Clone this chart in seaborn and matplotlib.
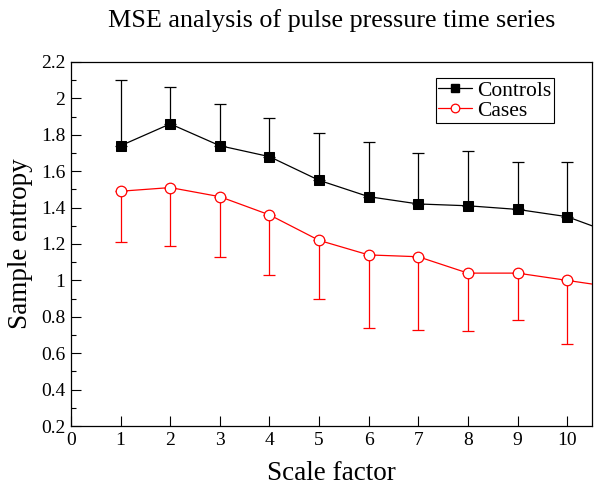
import matplotlib
matplotlib.use("Agg")
import matplotlib.pyplot as plt
import seaborn as sns
import pandas as pd
from matplotlib.ticker import MultipleLocator
from matplotlib.lines import Line2D

scale = [1, 2, 3, 4, 5, 6, 7, 8, 9, 10, 11]
controls = [1.74, 1.86, 1.74, 1.68, 1.55, 1.46, 1.42, 1.41, 1.39, 1.35, 1.25]
controls_upper = [2.10, 2.06, 1.97, 1.89, 1.81, 1.76, 1.70, 1.71, 1.65, 1.65]
cases = [1.49, 1.51, 1.46, 1.36, 1.22, 1.14, 1.13, 1.04, 1.04, 1.00, 0.96]
cases_lower = [1.21, 1.19, 1.13, 1.03, 0.90, 0.74, 0.73, 0.72, 0.78, 0.65]
ytick_vals = [0.2, 0.4, 0.6, 0.8, 1.0, 1.2, 1.4, 1.6, 1.8, 2.0, 2.2]
ytick_labels = ["0.2", "0.4", "0.6", "0.8", "1", "1.2", "1.4", "1.6", "1.8", "2", "2.2"]

sns.set_style("ticks")
plt.rcParams['font.family'] = ['Liberation Serif', 'DejaVu Serif']
plt.rcParams['text.color'] = 'black'
plt.rcParams['axes.labelcolor'] = 'black'
plt.rcParams['xtick.color'] = 'black'
plt.rcParams['ytick.color'] = 'black'

fig = plt.figure(figsize=(6, 4.9), dpi=100)
ax = fig.add_axes([71 / 600, 1 - 426 / 490, 521 / 600, 364 / 490])

df = pd.DataFrame({"scale": scale * 2,
                   "value": controls + cases,
                   "group": ["Controls"] * len(scale) + ["Cases"] * len(scale)})

n = len(controls_upper)
ax.errorbar(scale[:n], controls[:n],
            yerr=[[0] * n, [u - v for u, v in zip(controls_upper, controls[:n])]],
            fmt='none', ecolor='black', elinewidth=0.9, capsize=4.3, capthick=0.9, zorder=2)
ax.errorbar(scale[:n], cases[:n],
            yerr=[[v - l for l, v in zip(cases_lower, cases[:n])], [0] * n],
            fmt='none', ecolor='red', elinewidth=0.9, capsize=4.3, capthick=0.9, zorder=2)

sns.lineplot(data=df, x="scale", y="value", hue="group", style="group",
             palette={"Controls": "black", "Cases": "red"},
             markers={"Controls": "s", "Cases": "o"}, dashes=False,
             linewidth=0.9, ax=ax, legend=False, zorder=3)
for ln in ax.get_lines():
    if ln.get_marker() == 's':
        ln.set_markersize(6.8)
        ln.set_markerfacecolor('black')
        ln.set_markeredgecolor('black')
    elif ln.get_marker() == 'o':
        ln.set_markersize(7.6)
        ln.set_markerfacecolor('white')
        ln.set_markeredgecolor('red')
        ln.set_markeredgewidth(0.9)

h1 = Line2D([], [], color='black', marker='s', markersize=5.2, linewidth=0.9)
h2 = Line2D([], [], color='red', marker='o', markersize=6.2, markerfacecolor='white',
            markeredgecolor='red', markeredgewidth=0.9, linewidth=0.9)
leg = ax.legend([h1, h2], ["Controls", "Cases"], loc='upper right',
                bbox_to_anchor=(0.927, 0.956), fontsize=15.5, handlelength=1.55,
                handletextpad=0.25, borderpad=0.12, labelspacing=0.0,
                fancybox=False, framealpha=1, edgecolor='black', borderaxespad=0)
leg.get_frame().set_linewidth(0.8)

ax.set_xlim(0, 10.5)
ax.set_ylim(0.2, 2.2)
ax.xaxis.set_major_locator(MultipleLocator(1))
ax.set_yticks(ytick_vals)
ax.set_yticklabels(ytick_labels)
ax.yaxis.set_minor_locator(MultipleLocator(0.1))
ax.tick_params(which='both', direction='in', labelsize=14, width=0.8, color='black',
               labelcolor='black')
ax.tick_params(which='major', length=7, pad=4)
ax.tick_params(which='minor', length=3.6)
for s in ax.spines.values():
    s.set_linewidth(0.9)
    s.set_color('black')

ax.set_xlabel("Scale factor", fontsize=19.5, labelpad=9, color='black')
ax.set_ylabel("Sample entropy", fontsize=19.5, labelpad=6, color='black')
ax.set_title("MSE analysis of pulse pressure time series", fontsize=18.8, pad=25,
             color='black')

fig.savefig("out.png", dpi=100)
